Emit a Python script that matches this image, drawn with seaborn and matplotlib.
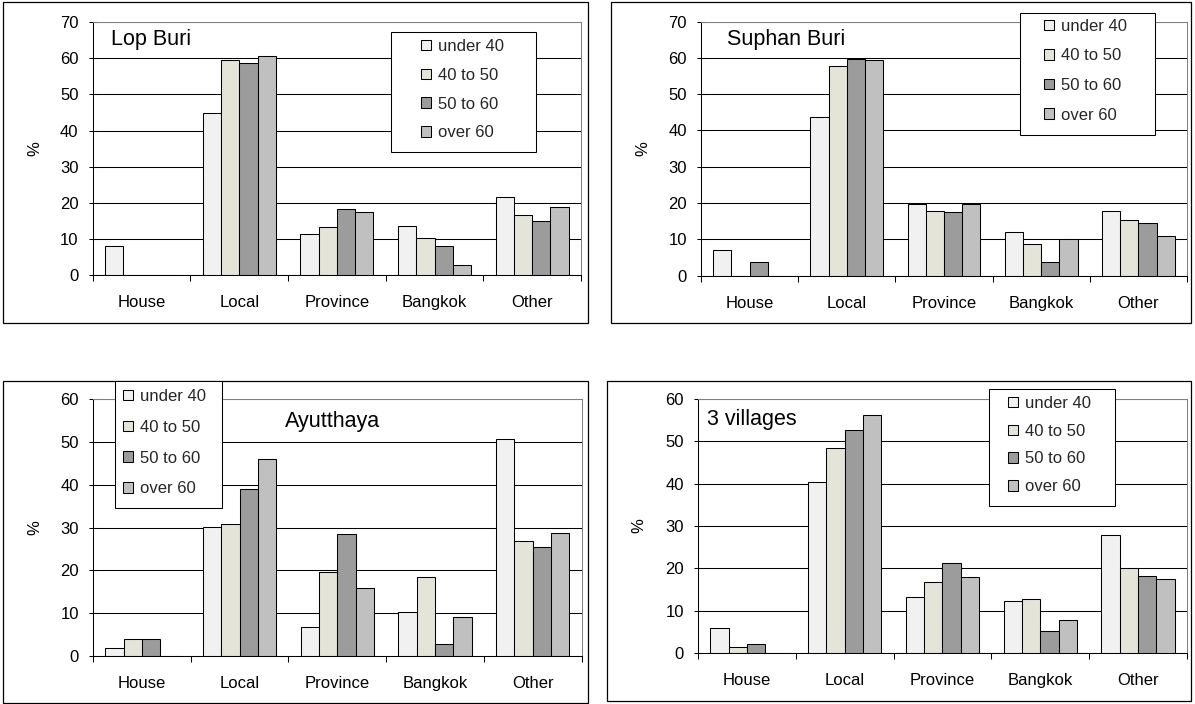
import matplotlib
matplotlib.use("Agg")
import matplotlib.pyplot as plt
from matplotlib.patches import Rectangle, Patch
import seaborn as sns
import pandas as pd

# ---- data -----------------------------------------------------------------
categories = ["House", "Local", "Province", "Bangkok", "Other"]
age_groups = ["under 40", "40 to 50", "50 to 60", "over 60"]

# rows follow age_groups, columns follow categories (percent)
lop_buri = [
    [8.0, 44.9, 11.5, 13.7, 21.6],
    [0.0, 59.5, 13.4, 10.4, 16.7],
    [0.0, 58.6, 18.3, 8.0, 15.1],
    [0.0, 60.7, 17.5, 2.9, 18.8],
]
suphan_buri = [
    [7.1, 43.6, 19.6, 12.1, 17.9],
    [0.0, 57.8, 17.9, 8.8, 15.4],
    [3.7, 59.8, 17.5, 3.7, 14.6],
    [0.0, 59.5, 19.6, 10.0, 10.8],
]
ayutthaya = [
    [1.8, 30.2, 6.7, 10.3, 50.6],
    [3.9, 30.8, 19.6, 18.5, 26.9],
    [3.9, 39.0, 28.4, 2.7, 25.5],
    [0.0, 46.1, 15.9, 9.2, 28.7],
]
three_villages = [
    [6.0, 40.5, 13.2, 12.2, 27.9],
    [1.4, 48.4, 16.7, 12.8, 20.1],
    [2.1, 52.7, 21.2, 5.3, 18.2],
    [0.0, 56.3, 17.9, 7.9, 17.5],
]

# ---- styling ----------------------------------------------------------------
bar_colors = ["#F1F1F1", "#E4E4D8", "#9C9C9C", "#C0C0C0"]
palette = dict(zip(age_groups, bar_colors))

sns.set_theme(style="white")
plt.rcParams["font.family"] = ["Liberation Sans", "DejaVu Sans"]

W, H = 1195, 704
TICK_FS = 12
TITLE_FS = 15.5

fig = plt.figure(figsize=(W / 100, H / 100), dpi=100)
fig.patch.set_facecolor("white")


def fig_rect(left, top, right, bottom):
    """Pixel box (origin top-left) -> figure fraction [x, y, w, h]."""
    return [left / W, 1 - bottom / H, (right - left) / W, (bottom - top) / H]


panels = [
    dict(title="Lop Buri", data=lop_buri, ymax=70,
         axes=(92.7, 22, 581, 275.3), frame=(3, 2, 588, 323),
         legend_box=(391, 32, 536, 152), legend_at=(421, 39), legend_step=29.3,
         title_at=(111, 40), ylabel_x=35),
    dict(title="Suphan Buri", data=suphan_buri, ymax=70,
         axes=(701, 21.5, 1187, 275.5), frame=(611, 2, 1191, 323),
         legend_box=(1020, 13, 1155, 135), legend_at=(1044, 19), legend_step=30,
         title_at=(727, 40), ylabel_x=643),
    dict(title="Ayutthaya", data=ayutthaya, ymax=60,
         axes=(93, 399, 581.5, 656), frame=(3, 381, 588, 703),
         legend_box=(115, 381, 222, 508), legend_at=(123, 389), legend_step=31.3,
         title_at=(285, 421), ylabel_x=35),
    dict(title="3 villages", data=three_villages, ymax=60,
         axes=(698, 399, 1187, 653), frame=(607, 381, 1191, 701),
         legend_box=(989, 389, 1115, 506), legend_at=(1008, 396), legend_step=28.2,
         title_at=(707, 420), ylabel_x=639),
]

legend_handles = [Patch(facecolor=c, edgecolor="black", linewidth=0.75)
                  for c in bar_colors]

for p in panels:
    l, t, r, b = p["axes"]
    ax = fig.add_axes(fig_rect(l, t, r, b))
    ax.set_facecolor("white")

    df = pd.DataFrame({
        "destination": categories * len(age_groups),
        "age": [g for g in age_groups for _ in categories],
        "pct": [v for row in p["data"] for v in row],
    })
    sns.barplot(data=df, x="destination", y="pct", hue="age",
                order=categories, hue_order=age_groups, palette=palette,
                width=0.75, gap=0, saturation=1, errorbar=None,
                edgecolor="black", linewidth=0.75, legend=False, ax=ax)

    ax.set_xlim(-0.5, len(categories) - 0.5)
    ax.set_ylim(0, p["ymax"])
    ax.set_yticks(range(0, p["ymax"] + 1, 10))

    # category boundaries carry the ticks, names sit between them
    ax.set_xticks([i - 0.5 for i in range(len(categories) + 1)])
    ax.set_xticklabels([])
    ax.set_xticks(range(len(categories)), labels=categories, minor=True)
    ax.tick_params(axis="x", which="major", bottom=True, direction="out",
                   length=4.5, width=0.75, color="black")
    ax.tick_params(axis="x", which="minor", bottom=True, length=0,
                   pad=14.5, labelsize=TICK_FS, labelcolor="black")
    ax.tick_params(axis="y", left=True, direction="inout", length=5.5,
                   width=0.75, color="black", pad=7.5,
                   labelsize=TICK_FS, labelcolor="black")

    ax.set_xlabel("")
    ax.set_ylabel("%", fontsize=TICK_FS, color="black", va="center")
    ax.yaxis.set_label_coords((p["ylabel_x"] - l) / (r - l), 0.5)

    ax.grid(axis="y", color="black", linewidth=0.75)
    ax.grid(axis="x", visible=False)
    ax.set_axisbelow(True)
    for side in ("left", "bottom"):
        ax.spines[side].set_color("black")
        ax.spines[side].set_linewidth(0.75)
    for side in ("top", "right"):
        ax.spines[side].set_color("#808080")
        ax.spines[side].set_linewidth(0.75)

    # panel title inside the plot area
    tx, ty = p["title_at"]
    fig.text(tx / W, 1 - ty / H, p["title"], ha="left", va="center",
             fontsize=TITLE_FS, color="black")

    # outer panel frame
    fl, ft, fr, fb = p["frame"]
    x0, y0, w0, h0 = fig_rect(fl, ft, fr, fb)
    fig.add_artist(Rectangle((x0, y0), w0, h0, transform=fig.transFigure,
                             fill=False, edgecolor="black", linewidth=0.9))

    # legend box and entries
    bl, bt, br, bb = p["legend_box"]
    x0, y0, w0, h0 = fig_rect(bl, bt, br, bb)
    fig.add_artist(Rectangle((x0, y0), w0, h0, transform=fig.transFigure,
                             facecolor="white", edgecolor="black",
                             linewidth=0.75, zorder=4))
    lx, ly = p["legend_at"]
    fs_px = TICK_FS * 100 / 72
    spacing = (p["legend_step"] - 0.93 * fs_px) / fs_px
    fig.legend(legend_handles, age_groups, loc="upper left",
               bbox_to_anchor=(lx / W, 1 - ly / H),
               bbox_transform=fig.transFigure, frameon=False,
               borderpad=0, borderaxespad=0, handlelength=0.6,
               handleheight=0.6, handletextpad=0.4, labelspacing=spacing,
               fontsize=TICK_FS)

fig.savefig("out.png", dpi=100, facecolor="white")
